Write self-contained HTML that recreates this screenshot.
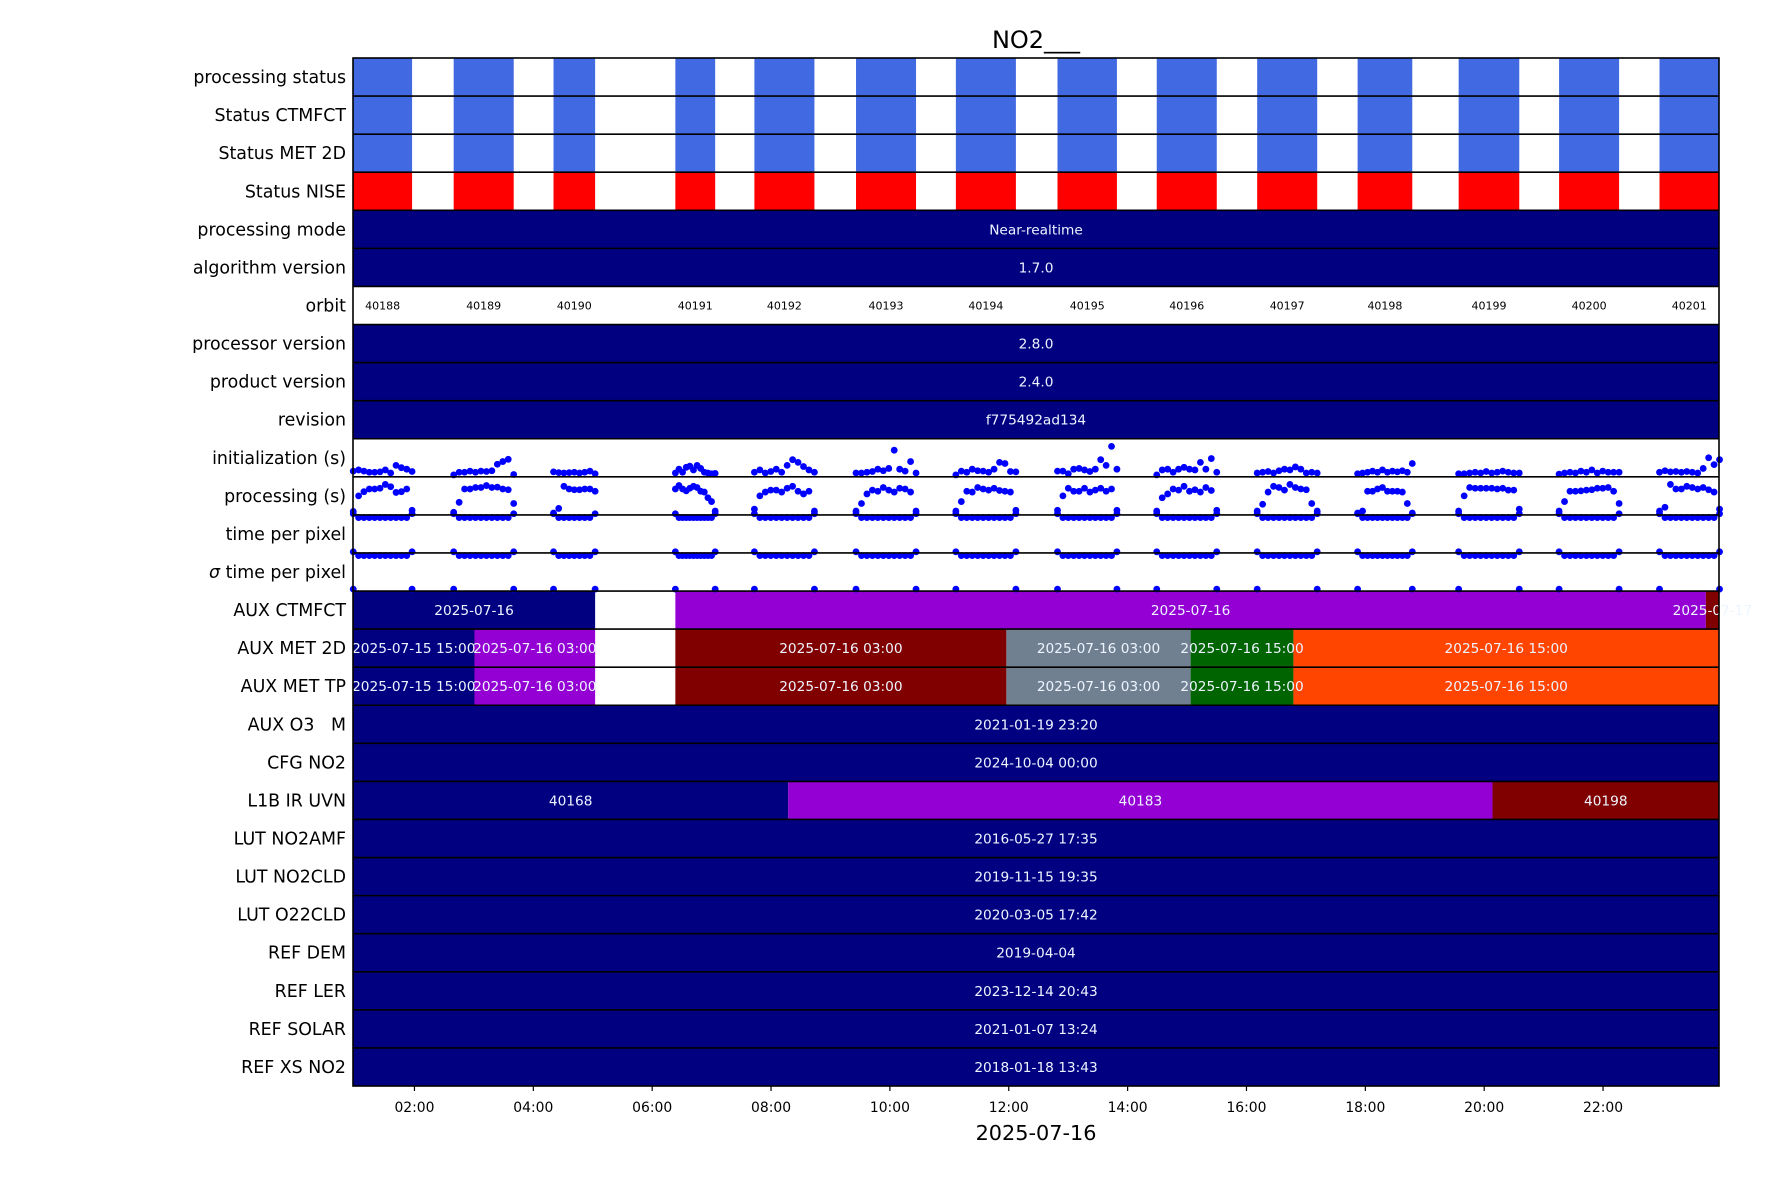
<!DOCTYPE html>
<html><head><meta charset="utf-8"><title>NO2 chart</title>
<style>
html,body{margin:0;padding:0;background:#fff;}
svg{display:block;font-family:"DejaVu Sans","Liberation Sans",sans-serif;}
text{white-space:pre;}
</style></head>
<body>
<svg id="chart" width="1771" height="1181" viewBox="0 0 1771 1181" xmlns="http://www.w3.org/2000/svg">
<text x="1036" y="48" font-size="24" text-anchor="middle" fill="#000">NO2___</text>
<text x="1036" y="1140" font-size="20.8" text-anchor="middle" fill="#000">2025-07-16</text>
<g id="bars"></g><g id="dots"></g><g id="grid"></g><g id="labels"></g><g id="axes"></g>
</svg>
<script>
const rowNames = ["processing status","Status CTMFCT","Status MET 2D","Status NISE","processing mode","algorithm version","orbit","processor version","product version","revision","initialization (s)","processing (s)","time per pixel","σ time per pixel","AUX CTMFCT","AUX MET 2D","AUX MET TP","AUX O3   M","CFG NO2","L1B IR UVN","LUT NO2AMF","LUT NO2CLD","LUT O22CLD","REF DEM","REF LER","REF SOLAR","REF XS NO2"];
const orbitNumbers = [40188,40189,40190,40191,40192,40193,40194,40195,40196,40197,40198,40199,40200,40201];
const orbitStart = [0.97,2.66,4.34,6.39,7.72,9.43,11.11,12.82,14.49,16.18,17.87,19.57,21.26,22.95];
const orbitEnd   = [1.96,3.67,5.04,7.06,8.73,10.44,12.12,13.82,15.50,17.19,18.79,20.59,22.27,23.96];
const tickHours = [2,4,6,8,10,12,14,16,18,20,22];
const tickLabels = ["02:00","04:00","06:00","08:00","10:00","12:00","14:00","16:00","18:00","20:00","22:00"];
const constRows = {
 "processing mode":"Near-realtime","algorithm version":"1.7.0","processor version":"2.8.0","product version":"2.4.0","revision":"f775492ad134",
 "AUX O3   M":"2021-01-19 23:20","CFG NO2":"2024-10-04 00:00","LUT NO2AMF":"2016-05-27 17:35","LUT NO2CLD":"2019-11-15 19:35","LUT O22CLD":"2020-03-05 17:42",
 "REF DEM":"2019-04-04","REF LER":"2023-12-14 20:43","REF SOLAR":"2021-01-07 13:24","REF XS NO2":"2018-01-18 13:43"};
const auxCtmfct = [[0.5,5.04,"#000080","2025-07-16"],[6.39,23.73,"#9400D3","2025-07-16"],[23.73,24.5,"#800000","2025-07-17"]];
const auxMet = [[0.5,3.01,"#000080","2025-07-15 15:00"],[3.01,5.04,"#9400D3","2025-07-16 03:00"],[6.39,11.96,"#800000","2025-07-16 03:00"],[11.96,15.06,"#708090","2025-07-16 03:00"],[15.06,16.79,"#006400","2025-07-16 15:00"],[16.79,24.5,"#FF4500","2025-07-16 15:00"]];
const l1b = [[0.5,8.29,"#000080","40168"],[8.29,20.14,"#9400D3","40183"],[20.14,24.5,"#800000","40198"]];
const initVals = [
 [0.15,0.18,0.15,0.12,0.12,0.13,0.18,0.1,0.3,0.24,0.2,0.14],
 [0.05,0.12,0.12,0.15,0.12,0.15,0.14,0.16,0.33,0.4,0.46,0.06],
 [0.13,0.11,0.1,0.11,0.12,0.1,0.12,0.15,0.08],
 [0.1,0.2,0.12,0.25,0.28,0.18,0.3,0.22,0.12,0.1,0.08,0.09],
 [0.12,0.18,0.1,0.14,0.2,0.12,0.3,0.45,0.38,0.27,0.18,0.12],
 [0.1,0.1,0.12,0.14,0.2,0.16,0.22,0.7,0.2,0.15,0.4,0.1],
 [0.05,0.15,0.12,0.2,0.16,0.15,0.12,0.2,0.38,0.35,0.14,0.13],
 [0.15,0.15,0.08,0.2,0.22,0.18,0.14,0.2,0.45,0.3,0.8,0.2],
 [0.05,0.18,0.2,0.12,0.2,0.25,0.2,0.18,0.38,0.2,0.48,0.12],
 [0.1,0.12,0.14,0.1,0.16,0.2,0.18,0.26,0.2,0.1,0.12,0.1],
 [0.08,0.1,0.12,0.15,0.12,0.18,0.12,0.15,0.13,0.16,0.12,0.35],
 [0.08,0.08,0.1,0.12,0.1,0.14,0.1,0.12,0.15,0.12,0.1,0.1],
 [0.07,0.1,0.12,0.1,0.15,0.12,0.18,0.1,0.15,0.12,0.12,0.12],
 [0.12,0.16,0.13,0.14,0.12,0.14,0.12,0.1,0.22,0.5,0.32,0.45]];
const procVals = [
 [0.09,0.5,0.61,0.68,0.68,0.7,0.8,0.74,0.59,0.61,0.68,0.12],
 [0.07,0.33,0.68,0.68,0.72,0.72,0.77,0.72,0.73,0.68,0.66,0.3],
 [0.05,0.17,0.75,0.68,0.66,0.66,0.68,0.68,0.62],
 [0.68,0.77,0.68,0.63,0.7,0.75,0.72,0.62,0.6,0.45,0.35,0.1],
 [0.15,0.5,0.6,0.65,0.65,0.6,0.7,0.75,0.62,0.55,0.62,0.1],
 [0.1,0.3,0.55,0.65,0.62,0.72,0.65,0.6,0.7,0.68,0.6,0.1],
 [0.1,0.35,0.62,0.6,0.72,0.68,0.65,0.7,0.64,0.62,0.6,0.12],
 [0.12,0.5,0.7,0.62,0.62,0.7,0.6,0.65,0.7,0.62,0.68,0.12],
 [0.1,0.45,0.55,0.68,0.65,0.75,0.62,0.66,0.6,0.72,0.64,0.12],
 [0.1,0.28,0.6,0.75,0.72,0.65,0.8,0.72,0.68,0.66,0.3,0.1],
 [0.05,0.1,0.62,0.62,0.68,0.72,0.62,0.62,0.62,0.6,0.3,0.05],
 [0.1,0.5,0.72,0.7,0.7,0.7,0.7,0.68,0.7,0.65,0.65,0.15],
 [0.1,0.35,0.62,0.62,0.63,0.65,0.66,0.7,0.7,0.72,0.62,0.3],
 [0.1,0.2,0.8,0.68,0.68,0.75,0.72,0.68,0.72,0.66,0.6,0.15]];
const tppInner = 0.93, tppEdge = 1.03, sigInner = 0.93, sigEdge = 1.03, sigLow = 0.05;

const NS="http://www.w3.org/2000/svg";
const L=353,R=1719,T=58,B=1086,NR=rowNames.length,RH=(B-T)/NR;
function xh(h){return 295.6+59.43*h;}
function rowTop(i){return T+i*RH;}
function yFrac(i,f){return rowTop(i)+RH*(1-f);}
function mk(tag,attrs,parent){const e=document.createElementNS(NS,tag);for(const k in attrs)e.setAttribute(k,attrs[k]);parent.appendChild(e);return e;}
const gBars=document.getElementById('bars'),gDots=document.getElementById('dots'),gGrid=document.getElementById('grid'),gLab=document.getElementById('labels'),gAx=document.getElementById('axes');
const clip=mk('clipPath',{id:'plotclip'},document.getElementById('chart'));
mk('rect',{x:L,y:T,width:R-L,height:B-T},clip);
gBars.setAttribute('clip-path','url(#plotclip)');

function bar(row,h0,h1,color,label,name){
  const x0=Math.max(xh(h0),L-5),x1=Math.min(xh(h1),R+5);
  const r=mk('rect',{x:x0,y:rowTop(row),width:x1-x0,height:RH,fill:color},gBars);
  
  
  if(label){
    const cx=(Math.max(xh(h0),L)+Math.min(xh(h1),R))/2;
    const t=mk('text',{x:cx,y:rowTop(row)+RH/2+5,'font-size':13.7,'text-anchor':'middle',fill:'#eef4ff'},gLab);
    t.textContent=label;
    
    
  }
}
rowNames.forEach((n,i)=>{
  const t=mk('text',{x:346,y:rowTop(i)+RH/2+6,'font-size':17.4,'text-anchor':'end',fill:'#000'},gLab);
  if(n.startsWith('σ')){const s=mk('tspan',{'font-style':'italic'},t);s.textContent='σ';const s2=mk('tspan',{},t);s2.textContent=n.slice(1);}
  else t.textContent=n;
  
  
});
orbitNumbers.forEach((o,k)=>{
  [0,1,2].forEach(r=>bar(r,orbitStart[k],orbitEnd[k],'#4169E1',null,'status-block-'+r+'-'+o));
  bar(3,orbitStart[k],orbitEnd[k],'#FF0000',null,'nise-block-'+o);
  const t=mk('text',{x:(xh(orbitStart[k])+Math.min(xh(orbitEnd[k]),R))/2,y:rowTop(6)+RH/2+4,'font-size':11,'text-anchor':'middle',fill:'#000'},gLab);
  t.textContent=String(o);
  
  
});
for(const n in constRows){bar(rowNames.indexOf(n),0.5,24.5,'#000080',constRows[n],'bar-'+n.replace(/\s+/g,'-').toLowerCase());}
auxCtmfct.forEach((s,i)=>bar(14,s[0],s[1],s[2],s[3],'aux-ctmfct-seg-'+i));
auxMet.forEach((s,i)=>{bar(15,s[0],s[1],s[2],s[3],'aux-met-2d-seg-'+i);bar(16,s[0],s[1],s[2],s[3],'aux-met-tp-seg-'+i);});
l1b.forEach((s,i)=>bar(19,s[0],s[1],s[2],s[3],'l1b-seg-'+i));
function dot(row,h,f,name){
  const c=mk('circle',{cx:xh(h),cy:yFrac(row,f),r:3.4,fill:'#0000FF'},gDots);
  
  
}
orbitNumbers.forEach((o,k)=>{
  const n=initVals[k].length,s=orbitStart[k],e=orbitEnd[k];
  for(let i=0;i<n;i++){
    const h=s+(e-s)*i/(n-1);
    dot(10,h,initVals[k][i],'init-point');
    dot(11,h,procVals[k][i],'proc-point');
    const edge=(i===0||i===n-1);
    dot(12,h,edge?tppEdge:tppInner,'tpp-point');
    dot(13,h,edge?sigEdge:sigInner,'sigma-point');
    if(edge)dot(13,h,sigLow,'sigma-low-point');
  }
});
for(let i=1;i<NR;i++){mk('line',{x1:L,x2:R,y1:rowTop(i),y2:rowTop(i),stroke:'#000','stroke-width':1.6},gGrid);}
const fr=mk('rect',{x:L,y:T,width:R-L,height:B-T,fill:'none',stroke:'#000','stroke-width':1.6},gAx);


tickHours.forEach((h,i)=>{
  mk('line',{x1:xh(h),x2:xh(h),y1:B,y2:B+5,stroke:'#000','stroke-width':1.2},gAx);
  const t=mk('text',{x:xh(h),y:1112,'font-size':13.9,'text-anchor':'middle',fill:'#000'},gAx);
  t.textContent=tickLabels[i];
  
  
});
</script>
</body></html>
